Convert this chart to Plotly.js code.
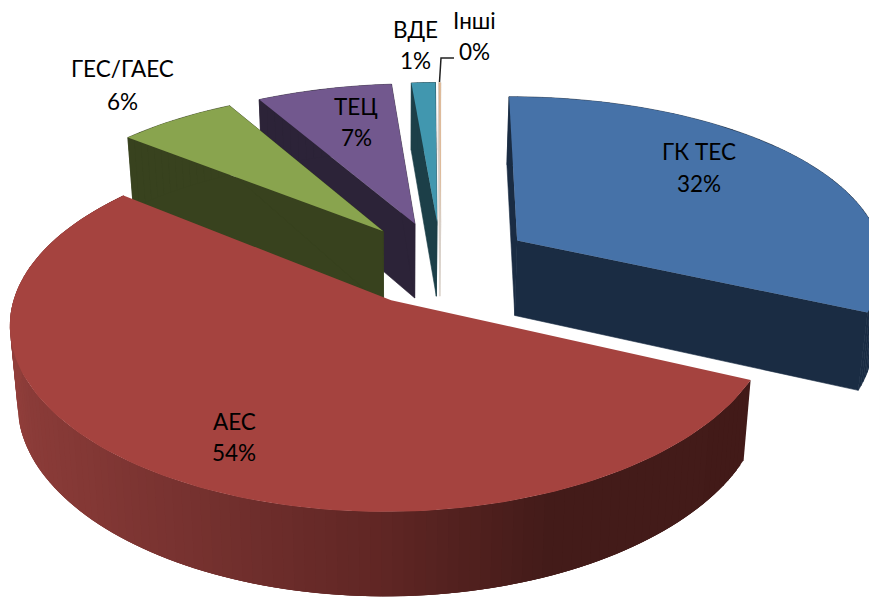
<!DOCTYPE html>
<html><head><meta charset="utf-8">
<script src="https://cdn.plot.ly/plotly-3.0.1.min.js"></script>
<style>html,body{margin:0;padding:0;background:#fff}#c{width:869px;height:597px}</style>
</head><body><div id="c"></div>
<script>
// Data (share of generation, %) in chart order, clockwise from 12 o'clock
const categories = ['ГК ТЕС','АЕС','ГЕС/ГАЕС','ТЕЦ','ВДЕ','Інші'];
const values     = [31.8, 54.1, 6.0, 6.8, 1.2, 0.1];

// Styles
const topColors  = ['#4672a8','#a5433f','#89a44e','#72588e','#4197af','#e0b48c'];
const wallColors = ['#1a2c43','#421b19','#38421e','#2c2338','#1c3f48','#d8d0c8'];
const redRamp = [[0,'#94403c'],[30,'#8a3b38'],[250,'#6f2e2c'],[380,'#602624'],[550,'#431b19'],[869,'#421a18']];
const labelFont = 'Lato, "Noto Sans", sans-serif';
const labelPos = [[699,151,183],[234,421,452],[122,68,101],[356,106,137],[415,29,60],[474,20,51]];
const leaderX = [439.5,441,454], leaderY = [82,58,58];

// 3-D pie view
const view = {ox:441, oy:263, A:170, B:368, p:0.1416, px:0.12, explode:0.25};
const total = values.reduce((a,b)=>a+b,0);
const rad = d => d*Math.PI/180;

function proj(X,Y,low){
  const w = 1+view.p*Y;
  let x = view.ox + view.B*X/(1+view.px*Y), y = view.oy - view.A*Y/w;
  if(low){ y += 75+50*(1.02-w); x -= (x-400)*0.02; }
  return [x,y];
}
function hex(c){return [1,3,5].map(i=>parseInt(c.substr(i,2),16));}
function ramp(x){
  for(let i=1;i<redRamp.length;i++){
    if(x<=redRamp[i][0]){
      const a=redRamp[i-1],b=redRamp[i],t=Math.max(0,(x-a[0])/(b[0]-a[0]));
      const ca=hex(a[1]),cb=hex(b[1]);
      return 'rgb('+ca.map((v,k)=>Math.round(v+(cb[k]-v)*t)).join(',')+')';
    }
  }
  return redRamp[redRamp.length-1][1];
}
function poly(pts,color,lw){
  return {type:'scatter',mode:'lines',x:pts.map(p=>p[0]).concat(pts[0][0]),y:pts.map(p=>p[1]).concat(pts[0][1]),
    fill:'toself',fillcolor:color,line:{color:color,width:lw||0.01,shape:'linear'},hoverinfo:'skip',showlegend:false};
}

// slice angles from the values
let cum=0;
const slices = values.map((v,i)=>{
  const a0=cum/total*360; cum+=v; const a1=cum/total*360, m=(a0+a1)/2;
  return {i,a0,a1,X0:view.explode*Math.sin(rad(m)),Y0:view.explode*Math.cos(rad(m))};
});
function rim(s,a,low){return proj(s.X0+Math.sin(rad(a)),s.Y0+Math.cos(rad(a)),low);}

const order=[5,4,3,2,0,1];
const traces=[];
order.forEach(k=>{
  const s=slices[k], n=Math.max(4,Math.ceil((s.a1-s.a0)/1.5));
  const ang=[]; for(let j=0;j<=n;j++) ang.push(s.a0+(s.a1-s.a0)*j/n);
  const apexT=proj(s.X0,s.Y0,false), apexB=proj(s.X0,s.Y0,true);
  // radial faces
  if(k!==1){
    traces.push(poly([apexT,rim(s,s.a0,false),rim(s,s.a0,true),apexB],wallColors[k],0.6));
    traces.push(poly([apexT,rim(s,s.a1,false),rim(s,s.a1,true),apexB],wallColors[k],0.6));
  }
  // outer wall
  for(let j=0;j<n;j++){
    if(k===1){
      // painted in sequence, each band running under the next one, so no seams show
      const e=Math.min(j+3,n), up=[], dn=[];
      for(let q=j;q<=e;q++){ up.push(rim(s,ang[q],false)); dn.unshift(rim(s,ang[q],true)); }
      const mid=rim(s,(ang[j]+ang[j+1])/2,false)[0];
      traces.push(poly(up.concat(dn),ramp(mid)));
    } else {
      traces.push(poly([rim(s,ang[j],false),rim(s,ang[j+1],false),rim(s,ang[j+1],true),rim(s,ang[j],true)],wallColors[k],0.6));
    }
  }
  // top face
  traces.push(poly([apexT].concat(ang.map(a=>rim(s,a,false))),topColors[k]));
});
traces.push({type:'scatter',mode:'lines',x:leaderX,y:leaderY,line:{color:'#222',width:1.5},hoverinfo:'skip',showlegend:false});

const annotations=[];
categories.forEach((c,i)=>{
  const [x,y1,y2]=labelPos[i];
  const pct=Math.round(values[i]/total*100)+'%';
  [[c,y1],[pct,y2]].forEach(([t,y])=>annotations.push({x,y,xref:'x',yref:'y',text:t,showarrow:false,
    xanchor:'center',yanchor:'middle',font:{family:labelFont,size:22.5,color:'#000'}}));
});

Plotly.newPlot('c',traces,{
  width:869,height:597,margin:{l:0,r:0,t:0,b:0},
  paper_bgcolor:'#fff',plot_bgcolor:'#fff',showlegend:false,
  xaxis:{range:[0,869],visible:false,fixedrange:true},
  yaxis:{range:[597,0],visible:false,fixedrange:true},
  annotations
},{displayModeBar:false,staticPlot:true});
</script></body></html>
